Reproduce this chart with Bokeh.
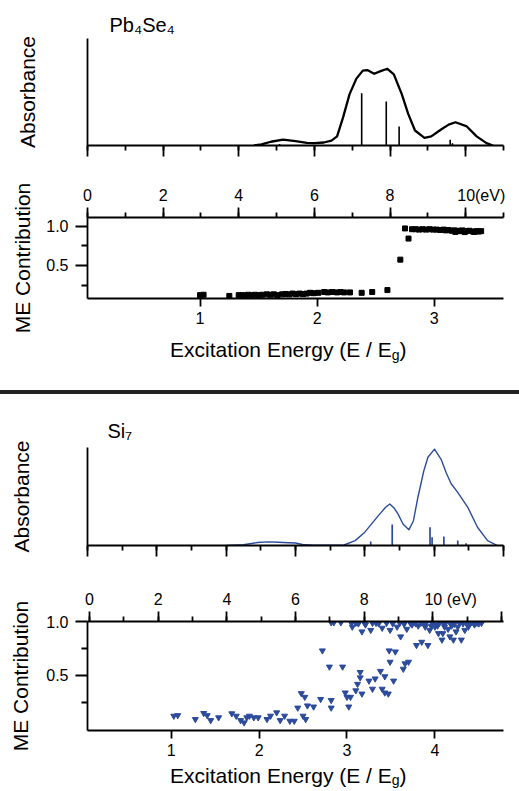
from bokeh.plotting import figure
from bokeh.models import Range1d, LinearAxis, FixedTicker, SingleIntervalTicker, PrintfTickFormatter, Div
from bokeh.layouts import column
from bokeh.embed import file_html
from bokeh.resources import INLINE

FONT = "Liberation Sans"
BLUE = "#2c4b9b"
NB = "\u00a0"

# ---------------- data ----------------
# Pb4Se4 absorbance spectrum (eV, arbitrary units)
pb_ev = [4.40, 4.60, 4.85, 5.17, 5.50, 5.80, 6.00, 6.25, 6.45, 6.60, 6.76, 6.93, 7.11, 7.28, 7.40,
         7.58, 7.75, 7.93, 8.10, 8.31, 8.48, 8.66, 8.91, 9.09, 9.35, 9.55, 9.73, 10.03, 10.29, 10.55, 10.72]
pb_abs = [0.000, 0.010, 0.035, 0.055, 0.040, 0.025, 0.022, 0.028, 0.045, 0.085, 0.265, 0.480, 0.625, 0.700, 0.705,
          0.670, 0.695, 0.717, 0.665, 0.480, 0.295, 0.140, 0.072, 0.085, 0.150, 0.195, 0.217, 0.178, 0.085, 0.022, 0.000]
pb_stick_ev = [5.08, 7.25, 7.90, 8.24, 9.59, 9.65]
pb_stick_h = [0.015, 0.489, 0.411, 0.178, 0.053, 0.020]

# Pb4Se4 ME contribution vs E/Eg
pb_me_x = [1.00, 1.03, 1.25, 1.33, 1.36, 1.38, 1.41, 1.44, 1.47, 1.50, 1.53, 1.57, 1.60, 1.63, 1.66, 1.70,
           1.73, 1.76, 1.79, 1.82, 1.85, 1.88, 1.91, 1.94, 1.97, 2.01, 2.06, 2.09, 2.13, 2.17, 2.20, 2.23,
           2.28, 2.38, 2.47, 2.60, 2.71, 2.78, 2.75,
           2.81, 2.84, 2.87, 2.90, 2.93, 2.96, 2.99, 3.02, 3.05, 3.08, 3.10, 3.12, 3.15, 3.17, 3.20, 3.22,
           3.24, 3.27, 3.30, 3.33, 3.36, 3.38, 3.40, 3.18, 3.26, 3.34]
pb_me_y = [0.120, 0.125, 0.110, 0.120, 0.120, 0.115, 0.125, 0.120, 0.125, 0.120, 0.125, 0.130, 0.125, 0.130, 0.120, 0.130,
           0.135, 0.130, 0.140, 0.135, 0.140, 0.135, 0.140, 0.150, 0.145, 0.150, 0.160, 0.155, 0.160, 0.155, 0.160, 0.155,
           0.155, 0.150, 0.160, 0.185, 0.575, 0.845, 0.975,
           0.965, 0.965, 0.960, 0.965, 0.960, 0.965, 0.960, 0.960, 0.955, 0.960, 0.950, 0.955, 0.945, 0.950, 0.945, 0.940,
           0.950, 0.940, 0.945, 0.935, 0.940, 0.935, 0.940, 0.930, 0.928, 0.930]

# Si7 absorbance spectrum (eV, arbitrary units)
si_ev = [4.0, 4.5, 4.9, 5.2, 5.5, 5.8, 6.0, 6.2, 6.5, 7.0, 7.4, 7.72, 8.0, 8.39, 8.6, 8.72, 8.85, 8.96,
         9.1, 9.27, 9.4, 9.53, 9.7, 9.82, 10.01, 10.2, 10.35, 10.49, 10.68, 10.97, 11.25, 11.54, 11.82]
si_abs = [0.0, 0.008, 0.030, 0.037, 0.033, 0.028, 0.025, 0.010, 0.003, 0.002, 0.005, 0.050, 0.136, 0.305, 0.390, 0.424,
          0.380, 0.320, 0.220, 0.160, 0.250, 0.490, 0.760, 0.900, 0.983, 0.880, 0.740, 0.630, 0.542, 0.390, 0.186,
          0.050, 0.0]
si_stick_ev = [8.17, 8.79, 9.88, 9.94, 10.28, 10.68, 10.92]
si_stick_h = [0.040, 0.214, 0.186, 0.085, 0.092, 0.050, 0.024]

# Si7 ME contribution vs E/Eg
si_me_x = [1.03, 1.075, 1.275, 1.37, 1.41, 1.45, 1.54, 1.69, 1.74, 1.79, 1.83, 1.86, 1.89, 1.94, 1.99,
           2.09, 2.13, 2.20, 2.24, 2.29, 2.35, 2.40, 2.44, 2.48, 2.52, 2.50, 2.53, 2.55, 2.62, 2.70, 2.72,
           2.80, 2.82, 2.82, 2.82, 2.85, 2.93, 2.95, 2.98, 3.00, 3.02, 3.04, 3.06, 3.10, 3.10, 3.12, 3.15,
           3.15, 3.17, 3.17, 3.21, 3.25, 3.27, 3.29, 3.29, 3.32, 3.38, 3.40, 3.40, 3.43, 3.43, 3.47, 3.48,
           3.49, 3.49, 3.53, 3.55, 3.57, 3.61, 3.64, 3.66, 3.68, 3.70, 3.74, 3.79, 3.81, 3.85, 3.89, 3.92,
           3.94, 4.00, 4.04, 4.08, 4.09, 4.15, 4.17, 4.21, 4.24, 4.26, 4.30, 4.34, 4.38, 4.45, 4.53,
           3.05, 3.13, 3.20, 3.33, 3.36, 3.45, 3.52, 3.60, 3.65, 3.72, 3.78, 3.84, 3.88, 3.90, 3.97, 4.02,
           4.05, 4.10, 4.12, 4.18, 4.22, 4.28, 4.32, 4.36, 4.40, 4.42, 4.48, 4.50, 3.96, 4.03, 4.11, 4.19]
si_me_y = [0.125, 0.130, 0.094, 0.150, 0.130, 0.084, 0.110, 0.147, 0.125, 0.084, 0.063, 0.110, 0.125, 0.110, 0.110,
           0.094, 0.125, 0.156, 0.084, 0.125, 0.078, 0.078, 0.200, 0.334, 0.300, 0.125, 0.094, 0.220, 0.210, 0.280, 0.730,
           0.580, 0.270, 0.200, 0.990, 0.990, 0.990, 0.580, 0.340, 0.300, 0.210, 0.300, 0.950, 0.360, 0.985, 0.420, 0.530,
           0.480, 0.330, 0.906, 0.970, 0.450, 0.920, 0.375, 0.985, 0.470, 0.540, 0.375, 0.940, 0.490, 0.340, 0.330, 0.730,
           0.625, 0.920, 0.450, 0.720, 0.950, 0.860, 0.560, 0.610, 0.930, 0.625, 0.970, 0.780, 0.960, 0.810, 0.950, 0.780,
           0.920, 0.950, 0.890, 0.830, 0.890, 0.930, 0.860, 0.830, 0.906, 0.950, 0.830, 0.920, 0.950, 0.970, 0.985,
           0.985, 0.980, 0.985, 0.985, 0.980, 0.985, 0.980, 0.985, 0.975, 0.985, 0.980, 0.985, 0.975, 0.985, 0.980, 0.970,
           0.985, 0.975, 0.985, 0.980, 0.975, 0.985, 0.980, 0.985, 0.980, 0.990, 0.985, 0.980, 0.955, 0.960, 0.950, 0.960]

me_ticks = {"pb": [1, 2, 3], "si": [1, 2, 3, 4]}
ev_label_pb = {10: NB * 7 + "10(eV)"}
ev_label_si = {10: NB * 8 + "10 (eV)", 12: ""}
xlabel_main = "Excitation Energy (E / E"
xlabel_sub = "g"


# ---------------- helpers ----------------
def style_common(p):
    p.grid.visible = False
    p.outline_line_color = None
    p.background_fill_color = "white"
    p.border_fill_color = "white"


def style_axis(ax, tick_out, minor_out, label_size="16px", standoff=5, show_labels=True):
    ax.axis_line_width = 1.8
    ax.axis_line_color = "black"
    ax.major_tick_line_width = 1.8
    ax.minor_tick_line_width = 1.8
    ax.major_tick_line_color = "black"
    ax.minor_tick_line_color = "black"
    ax.major_tick_out = tick_out
    ax.major_tick_in = 0
    ax.minor_tick_out = minor_out
    ax.minor_tick_in = 0
    ax.major_label_text_font = FONT
    ax.major_label_text_font_size = label_size
    ax.major_label_text_color = "black" if show_labels else None
    ax.major_label_standoff = standoff
    ax.axis_label_text_font = FONT
    ax.axis_label_text_font_size = "21px"
    ax.axis_label_text_font_style = "normal"
    ax.axis_label_text_color = "black"


def abs_panel(height, bl, br, bt, bb, xr, title, title_offset, title_standoff, ylab_standoff):
    p = figure(width=519, height=height, x_range=Range1d(*xr), y_range=Range1d(0, 1),
               output_backend="svg", toolbar_location=None,
               min_border_left=bl, min_border_right=br, min_border_top=bt, min_border_bottom=bb)
    style_common(p)
    p.title.text = title
    p.title.text_font = FONT
    p.title.text_font_size = "20px"
    p.title.text_font_style = "normal"
    p.title.text_color = "black"
    p.title.align = "left"
    p.title.offset = title_offset
    p.title.standoff = title_standoff
    xa = p.below[0]
    style_axis(xa, 11, 5, label_size="0px", standoff=0, show_labels=False)
    xa.ticker = SingleIntervalTicker(interval=2, num_minor_ticks=2)
    ya = p.left[0]
    style_axis(ya, 0, 0, label_size="0px", standoff=0, show_labels=False)
    ya.ticker = FixedTicker(ticks=[])
    ya.axis_label = "Absorbance"
    ya.axis_label_standoff = ylab_standoff
    return p


def me_panel(height, bl, br, bt, bb, xr, yr, evr, ticks, ev_overrides, ylab_standoff):
    p = figure(width=519, height=height, x_range=Range1d(*xr), y_range=Range1d(*yr),
               output_backend="svg", toolbar_location=None,
               min_border_left=bl, min_border_right=br, min_border_top=bt, min_border_bottom=bb)
    style_common(p)
    p.extra_x_ranges = {"ev": Range1d(*evr)}
    top = LinearAxis(x_range_name="ev", ticker=SingleIntervalTicker(interval=2, num_minor_ticks=2))
    style_axis(top, 10, 5, standoff=4)
    top.major_label_overrides = ev_overrides
    p.add_layout(top, "above")
    xa = p.below[0]
    style_axis(xa, 8, 0, standoff=5)
    xa.ticker = FixedTicker(ticks=ticks)
    ya = p.left[0]
    style_axis(ya, 12, 6, standoff=7)
    ya.ticker = FixedTicker(ticks=[0.5, 1.0], minor_ticks=[0.25, 0.75])
    ya.formatter = PrintfTickFormatter(format="%.1f")
    ya.axis_label = "ME Contribution"
    ya.axis_label_standoff = ylab_standoff
    return p


def xlabel_div(height, pad_top, sub_drop):
    html = (f'<div style="margin:0;padding:{pad_top}px 0 0 170px;font-family:\'{FONT}\';font-size:21px;'
            f'line-height:21px;color:black;white-space:nowrap;overflow:hidden;height:{height - pad_top}px">'
            f'{xlabel_main}<span style="font-size:14px;position:relative;top:{sub_drop}px">{xlabel_sub}</span>)</div>')
    return Div(text=html, width=519, height=height, margin=(0, 0, 0, 0))


# ---------------- panel 1: Pb4Se4 absorbance ----------------
p1 = abs_panel(165, 85, 9, 38, 20, (0, 11), "Pb\u2084Se\u2084", 22, 5, 49)
p1.line(pb_ev, pb_abs, line_width=2.3, color="black", line_join="round")
p1.segment(x0=pb_stick_ev, y0=[0] * len(pb_stick_ev), x1=pb_stick_ev, y1=pb_stick_h, line_width=1.6, color="black")

# ---------------- panel 2: Pb4Se4 ME contribution ----------------
p2 = me_panel(167, 85, 9, 52, 34, (0.039, 3.591), (0.077, 1.115), (0, 11), me_ticks["pb"], ev_label_pb, 9)
p2.scatter(pb_me_x, pb_me_y, marker="square", size=5, color="black")
d2 = xlabel_div(58, 7, 3)

# ---------------- separator ----------------
sep = Div(text="", width=519, height=4, margin=(0, 0, 0, 0), styles={"background-color": "#222222"})

# ---------------- panel 3: Si7 absorbance ----------------
p3 = abs_panel(172, 87, 13, 53, 21, (0, 12), "Si\u2087", 20, 11, 55)
p3.line(si_ev, si_abs, line_width=1.4, color=BLUE, line_join="round")
p3.segment(x0=si_stick_ev, y0=[0] * len(si_stick_ev), x1=si_stick_ev, y1=si_stick_h, line_width=1.7, color=BLUE)

# ---------------- panel 4: Si7 ME contribution ----------------
p4 = me_panel(198, 83, 16, 55, 34, (0.0485, 4.78), (-0.01, 1.0), (-0.058, 12.056), me_ticks["si"], ev_label_si, 11)
p4.scatter(si_me_x, si_me_y, marker="inverted_triangle", size=6, color=BLUE)
d4 = xlabel_div(27, 1, 2)

layout = column(p1, p2, d2, sep, p3, p4, d4, spacing=0)
open("out.html", "w").write(file_html(layout, INLINE))
